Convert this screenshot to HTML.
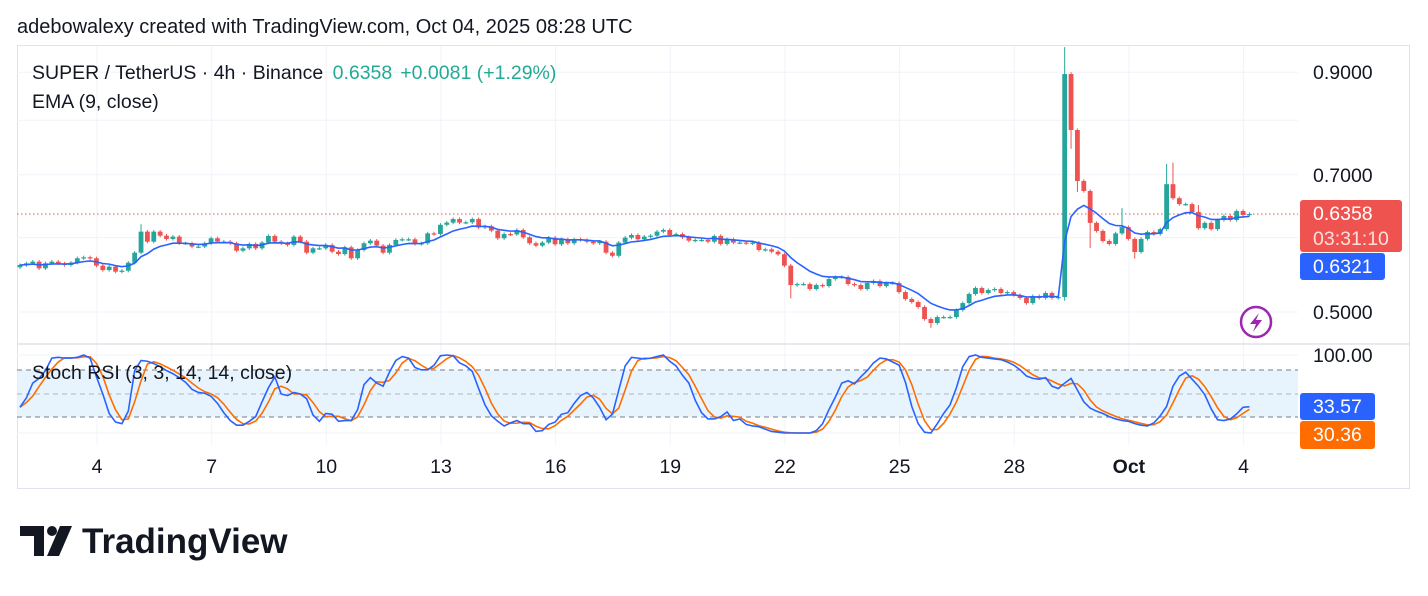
<!DOCTYPE html>
<html><head><meta charset="utf-8"><style>
body{margin:0;background:#fff;width:1428px;height:591px;overflow:hidden;font-family:"Liberation Sans",Arial,sans-serif;}
svg text{font-family:"Liberation Sans",Arial,sans-serif;}
</style></head><body>
<svg id="chart" width="1428" height="591" viewBox="0 0 1428 591" xmlns="http://www.w3.org/2000/svg">
<rect x="0" y="0" width="1428" height="591" fill="#fff"/>
<text x="17" y="33" font-size="20" fill="#131722">adebowalexy created with TradingView.com, Oct 04, 2025 08:28 UTC</text>
<rect x="17.5" y="45.5" width="1392" height="443" fill="none" stroke="#e0e3eb"/>
<g id="grid"></g>
<rect x="17" y="370" width="1281" height="47" fill="#e3f2fd" opacity="0.85"/>
<line x1="17" x2="1298" y1="370" y2="370" stroke="#787b86" stroke-dasharray="5,4"/>
<line x1="17" x2="1298" y1="394" y2="394" stroke="#b2b5be" stroke-dasharray="5,4"/>
<line x1="17" x2="1298" y1="417" y2="417" stroke="#787b86" stroke-dasharray="5,4"/>
<line x1="17" x2="1410" y1="344" y2="344" stroke="#d1d4dc"/>
<line x1="17" x2="1298" y1="214" y2="214" stroke="#ef5350" stroke-dasharray="1.5,2.5"/>
<g id="candles"></g>
<g id="lines"></g>
<g id="axis"></g>
<text x="32" y="79" font-size="19.5" fill="#131722">SUPER / TetherUS · 4h · Binance <tspan fill="#22ab94" dx="4">0.6358</tspan><tspan fill="#22ab94" dx="8">+0.0081 (+1.29%)</tspan></text>
<text x="32" y="108" font-size="19.5" fill="#131722">EMA (9, close)</text>
<text x="32" y="379" font-size="19.5" fill="#131722">Stoch RSI (3, 3, 14, 14, close)</text>
<g>
<circle cx="1256" cy="322" r="15" fill="none" stroke="#9c27b0" stroke-width="2.5"/>
<path d="M1259 313 L1250 324 L1256 324 L1253 332 L1262 320 L1256 320 Z" fill="#9c27b0"/>
</g>
<g>
<path d="M20 526 H44 V556 H34 V536 H20 Z" fill="#131722"/>
<circle cx="52" cy="531" r="5" fill="#131722"/>
<path d="M60 526 H72 L59 556 H47 Z" fill="#131722"/>
<text x="82" y="553" font-size="35" font-weight="bold" fill="#131722">TradingView</text>
</g>
</svg>
<script>
const closes=[0.5611,0.5634,0.5657,0.5565,0.5634,0.5657,0.5634,0.5611,0.5643,0.5704,0.5718,0.5704,0.5602,0.5542,0.5588,0.5520,0.5533,0.5643,0.5783,0.6089,
0.5941,0.6089,0.6029,0.5981,0.6015,0.5918,0.5918,0.5870,0.5870,0.5918,0.5991,0.5941,0.5941,0.5918,0.5811,0.5845,0.5908,0.5845,0.5928,0.6025,
0.5941,0.5918,0.5894,0.6015,0.5941,0.5783,0.5845,0.5845,0.5894,0.5797,0.5764,0.5860,0.5704,0.5821,0.5918,0.5956,0.5884,0.5783,0.5894,0.5966,
0.5976,0.5976,0.5908,0.5918,0.6063,0.6053,0.6192,0.6225,0.6280,0.6225,0.6230,0.6280,0.6151,0.6170,0.6104,0.5991,0.6053,0.6048,0.6114,0.6005,
0.5918,0.5884,0.5928,0.6000,0.5903,0.5976,0.5918,0.5976,0.5966,0.5941,0.5918,0.5941,0.5783,0.5739,0.5928,0.6000,0.6039,0.5976,0.6015,0.6029,
0.6089,0.6114,0.6039,0.6053,0.6005,0.5956,0.5966,0.5966,0.5941,0.6025,0.5908,0.5976,0.5928,0.5928,0.5918,0.5928,0.5821,0.5831,0.5797,0.5760,
0.5602,0.5342,0.5355,0.5355,0.5290,0.5342,0.5329,0.5421,0.5448,0.5448,0.5355,0.5342,0.5290,0.5368,0.5395,0.5329,0.5368,0.5368,0.5251,0.5162,
0.5124,0.5062,0.4915,0.4867,0.4939,0.4939,0.4939,0.5025,0.5111,0.5226,0.5303,0.5239,0.5277,0.5290,0.5239,0.5251,0.5213,0.5175,0.5111,0.5200,
0.5175,0.5239,0.5175,0.5187,0.8960,0.7811,0.6894,0.6727,0.6221,0.6099,0.5951,0.5908,0.6063,0.6157,0.5981,0.5793,0.5981,0.6083,0.6053,0.6126,
0.6840,0.6609,0.6514,0.6514,0.6389,0.6141,0.6221,0.6126,0.6265,0.6327,0.6265,0.6405,0.6343,0.6358];
const firstOpen=0.5580;
const highOverrides={19:0.620,164:0.957,165:0.900,180:0.719,181:0.721,173:0.645,185:0.650};
const lowOverrides={121:0.517,143:0.481,164:0.514,165:0.746,166:0.671,175:0.570,168:0.585};
const stochK=[33,45,64,70,80,96,97,96,96,97,100,96,72,50,25,14,12,28,80,93,
92,89,85,80,76,71,65,56,52,51,47,38,26,16,10,10,15,21,40,58,
72,50,48,52,50,44,23,15,25,24,15,16,16,30,62,71,64,60,78,93,
98,96,84,81,81,87,99,100,99,90,86,79,57,36,22,15,9,13,16,12,
12,2,3,11,14,24,26,38,48,52,45,33,17,24,55,86,97,96,95,96,
98,100,92,86,74,64,42,26,18,18,21,27,16,18,11,9,8,5,2,1,
0,0,0,0,0,3,12,30,46,64,67,63,72,80,90,96,95,91,87,65,
34,12,1,0,12,25,36,58,85,98,100,97,96,95,94,91,87,81,73,70,
69,71,60,57,64,70,55,40,32,28,25,21,18,16,15,12,10,9,13,22,
34,60,73,78,69,60,49,31,17,16,18,24.5,33,33.57];
const priceTicks=[0.5,0.6,0.7,0.8,0.9];
const priceTickLabels=["0.5000","","0.7000","","0.9000"];
const dayLabels=["4","7","10","13","16","19","22","25","28","Oct","4"];
const NS="http://www.w3.org/2000/svg";
function xS(i){return 20+6.37*i;}
function yP(p){return 214-408*Math.log(p/0.6358);}
function yK(v){return 433-0.78*v;}
function dayX(d){return 97+38.22*d;}
function mk(tag,attrs,parent){const e=document.createElementNS(NS,tag);for(const k in attrs)e.setAttribute(k,attrs[k]);parent.appendChild(e);return e;}
const grid=document.getElementById('grid'),cg=document.getElementById('candles'),lg=document.getElementById('lines'),ax=document.getElementById('axis');
priceTicks.forEach((p,j)=>{const l=mk('line',{x1:17,x2:1298,y1:yP(p),y2:yP(p),stroke:'#f0f3fa'},grid);


if(priceTickLabels[j]){const t=mk('text',{x:1313,y:yP(p)+7,'font-size':19.5,fill:'#131722'},ax);t.textContent=priceTickLabels[j];

}});
[355,433].forEach(y=>{const l=mk('line',{x1:17,x2:1298,y1:y,y2:y,stroke:'#f0f3fa'},grid);

});
dayLabels.forEach((lab,j)=>{const x=dayX(j*3);const l=mk('line',{x1:x,x2:x,y1:46,y2:445,stroke:'#f0f3fa'},grid);


const t=mk('text',{x:x,y:473,'font-size':19.5,fill:'#131722','text-anchor':'middle','font-weight':lab==='Oct'?'bold':'normal'},ax);t.textContent=lab;

});
const t100=mk('text',{x:1313,y:362,'font-size':19.5,fill:'#131722'},ax);t100.textContent='100.00';


closes.forEach((c,i)=>{const o=i===0?firstOpen:closes[i-1];
const h=highOverrides[i]!==undefined?highOverrides[i]:Math.max(o,c)*1.004;
const lo=lowOverrides[i]!==undefined?lowOverrides[i]:Math.min(o,c)*0.996;
const col=c>=o?'#26a69a':'#ef5350';const x=xS(i);
const g=mk('g',{},cg);


mk('line',{x1:x,x2:x,y1:yP(h),y2:yP(lo),stroke:col,'stroke-width':1},g);
const yt=yP(Math.max(o,c)),yb=yP(Math.min(o,c));
mk('rect',{x:x-2.4,y:yt,width:4.8,height:Math.max(1.2,yb-yt),fill:col},g);});
const ema=[];closes.forEach((c,i)=>{ema.push(i===0?c:c*0.2+ema[i-1]*0.8);});
const ep=mk('polyline',{points:ema.map((v,i)=>xS(i)+','+yP(v)).join(' '),fill:'none',stroke:'#2962ff','stroke-width':1.6},lg);


const stochD=stochK.map((v,i)=>{const a=stochK.slice(Math.max(0,i-2),i+1);return a.reduce((s,x)=>s+x,0)/a.length;});
const dl=mk('polyline',{points:stochD.map((v,i)=>xS(i)+','+yK(v)).join(' '),fill:'none',stroke:'#ff6d00','stroke-width':1.6},lg);


const kl=mk('polyline',{points:stochK.map((v,i)=>xS(i)+','+yK(v)).join(' '),fill:'none',stroke:'#2962ff','stroke-width':1.6},lg);


function badge(name,x,y,w,h,fill,lines){const g=mk('g',{},ax);


mk('rect',{x:x,y:y,width:w,height:h,rx:3,fill:fill},g);
lines.forEach((s,k)=>{const t=mk('text',{x:x+13,y:y+20+k*25,'font-size':19.5,fill:k?'#fde0df':'#fff'},g);t.textContent=s;});}
badge('last-price-badge',1300,200,102,52,'#ef5350',[closes[closes.length-1].toFixed(4),'03:31:10']);
badge('ema-badge',1300,253,85,27,'#2962ff',[ema[ema.length-1].toFixed(4)]);
badge('stoch-d-badge',1300,421,75,28,'#ff6d00',[stochD[stochD.length-1].toFixed(2)]);
badge('stoch-k-badge',1300,393,75,27,'#2962ff',[stochK[stochK.length-1].toFixed(2)]);
</script>
</body></html>
